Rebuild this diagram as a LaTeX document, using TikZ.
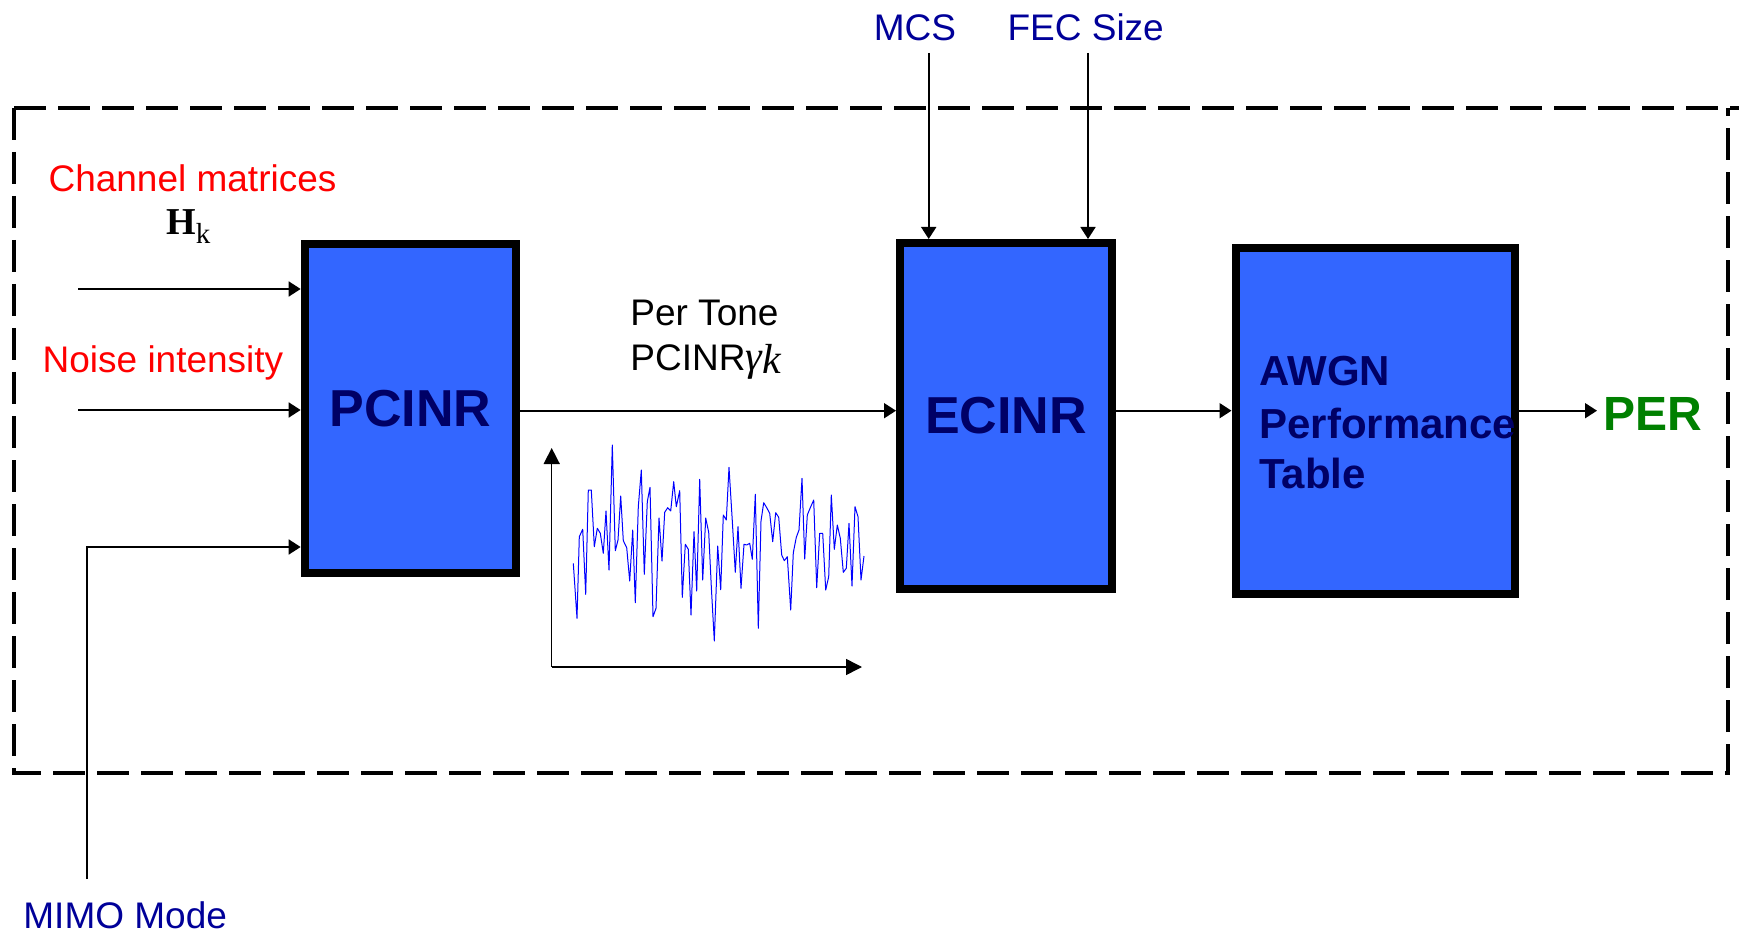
\documentclass[tikz,border=0pt]{standalone}
\usepackage{fontspec}
\setmainfont{Liberation Sans}
\newfontfamily\seriffont{Liberation Serif}
\usetikzlibrary{arrows.meta}
\definecolor{boxblue}{HTML}{3366FF}
\definecolor{navytext}{HTML}{000066}
\definecolor{labelblue}{HTML}{000099}
\definecolor{pergreen}{HTML}{008000}
\begin{document}
\begin{tikzpicture}[x=0.5pt,y=-0.5pt,
  blockbox/.style={draw=black, line width=4pt, fill=boxblue, inner sep=0pt, outer sep=2pt,
     font=\fontsize{26}{31}\selectfont\bfseries, text=navytext},
  lbl/.style={inner sep=0pt, font=\fontsize{18.5}{22}\selectfont},
  awgntxt/.style={anchor=base west, inner sep=0pt, font=\fontsize{21}{25}\selectfont\bfseries, text=navytext},
  conn/.style={line width=0.9pt, -{Triangle[length=6pt,width=7.5pt]}},
  axisarr/.style={line width=0.75pt, -{Triangle[length=8pt,width=8pt]}},
  frame/.style={line width=1.75pt, dash pattern=on 16pt off 6pt},
]
\useasboundingbox (0,0) rectangle (1739,935);

% dashed frame
\draw[frame] (14,108) -- (1739,108);
\draw[frame] (14,108) -- (14,773) -- (1728,773) -- (1728,108);

% blocks
\node[blockbox, minimum width=105.65pt, minimum height=164.5pt] (pcinr) at (410.3,408.5) {PCINR};
\node[blockbox, minimum width=106pt, minimum height=173pt] (ecinr) at (1006,416) {ECINR};
\node[blockbox, minimum width=139.5pt, minimum height=173pt] (awgn) at (1375,421) {};
\node[awgntxt] (awgn1) at (1259,386) {AWGN};
\node[awgntxt] (awgn2) at (1259,438) {Performance};
\node[awgntxt] (awgn3) at (1259,488) {Table};

% labels
\node[lbl, text=red, anchor=base] (chlabel) at (192.5,192) {Channel matrices};
\node[anchor=base west, inner sep=0pt] (hk) at (166,235)
  {\seriffont\fontsize{19}{21}\selectfont\bfseries H\raisebox{-4.5pt}{\fontsize{14.5}{16}\selectfont\mdseries k}};
\node[lbl, text=red, anchor=base] (noiselabel) at (163,372) {Noise intensity};
\node[lbl, anchor=base west] (pertone1) at (630,326) {Per Tone};
\node[lbl, anchor=base west] (pertone2) at (630,371)
  {PCINR{\seriffont\itshape\fontsize{21}{24}\selectfont γ\raisebox{-1.5pt}{k}}};
\node[lbl, text=labelblue, anchor=base] (mcs) at (915,40.7) {MCS};
\node[lbl, text=labelblue, anchor=base] (fec) at (1085.7,40.7) {FEC Size};
\node[lbl, text=labelblue, anchor=base west] (mimo) at (23,928) {MIMO Mode};
\node[anchor=base west, inner sep=0pt, font=\fontsize{24}{28}\selectfont\bfseries, text=pergreen] (per) at (1603,430) {PER};

% connectors
\coordinate (chin) at (78,289);
\coordinate (noisein) at (78,410);
\coordinate (mimoin) at (86.7,879);
\coordinate (mimobend) at (86.7,547);
\coordinate (mid) at (0,410.7);
\coordinate (mcsin) at (928.7,53);
\coordinate (fecin) at (1088,53);
\coordinate (perin) at (1597,410.7);

\draw[conn] (chin) -- (chin -| pcinr.west);
\draw[conn] (noisein) -- (noisein -| pcinr.west);
\draw[conn] (mimoin) -- (mimobend) -- (mimobend -| pcinr.west);
\draw[conn] (pcinr.east |- mid) -- (ecinr.west |- mid);
\draw[conn] (ecinr.east |- mid) -- (awgn.west |- mid);
\draw[conn] (awgn.east |- mid) -- (perin);
\draw[conn] (mcsin) -- (mcsin |- ecinr.north);
\draw[conn] (fecin) -- (fecin |- ecinr.north);

% chart
\coordinate (origin) at (551.7,667);
\coordinate (ytip) at (551.7,448);
\coordinate (xtip) at (862,667);
\draw[axisarr] (origin) -- (ytip);
\draw[axisarr] (origin) -- (xtip);
\draw[blue, line width=0.5pt, line join=round] plot coordinates {
(573.3,563.3) (577,618.3) (579.3,536.7) (582.7,529.3) (585.7,594.3) (588.3,490) (591.3,490)
(594.3,546.7) (597.3,528.3) (600.3,533.3) (603.3,553.3) (606,511) (609,570) (612.3,445)
(615.3,550.7) (618,540) (620.7,496) (623.3,540.7) (626.7,547.7) (629.7,581) (632.7,530)
(635.3,602.7) (638.3,506.7) (641.3,470) (644.3,574.3) (647.3,501.7) (650,487.3) (653,616.7)
(656,608.3) (659,518) (662,561) (664.7,512.3) (667.7,507.7) (670.7,511) (673.7,481.7)
(676.3,506.7) (679.7,490.7) (682.3,597.3) (685.3,544.3) (688.3,549.3) (691,615) (694,531.7)
(696.7,591) (699.7,479.3) (702.7,580) (705.7,518) (708.7,532.3) (711.3,586.7) (714.3,641)
(717.7,546) (720.7,589.7) (723.3,515) (726.3,520) (729,467.3) (732.3,521) (735.3,572.3)
(738,526.7) (741,588.3) (744,544.3) (746.7,545) (749.7,543.3) (752.3,559.3) (755.3,494.3)
(758.3,628.3) (761,521) (763.7,502.7) (766.7,507.7) (769.7,513.3) (772.7,541.7) (775.7,512.7)
(778.7,517.3) (781.7,555) (784.3,560.7) (787.3,556.7) (790.7,610) (793.3,552.7) (796.3,537.3)
(799,530) (802,478.3) (804.7,559) (807.3,515) (810.3,507.7) (813.7,500) (816.7,587.7)
(819.7,533.3) (822.7,533.3) (825.7,590) (828.7,576.7) (831.3,495) (834.3,549.3) (837.3,525)
(840.3,538.3) (843.3,572.3) (846.3,568.3) (849,523.3) (852,586) (855,506.7) (858,516.7)
(861,580) (864,556)};
\end{tikzpicture}
\end{document}
